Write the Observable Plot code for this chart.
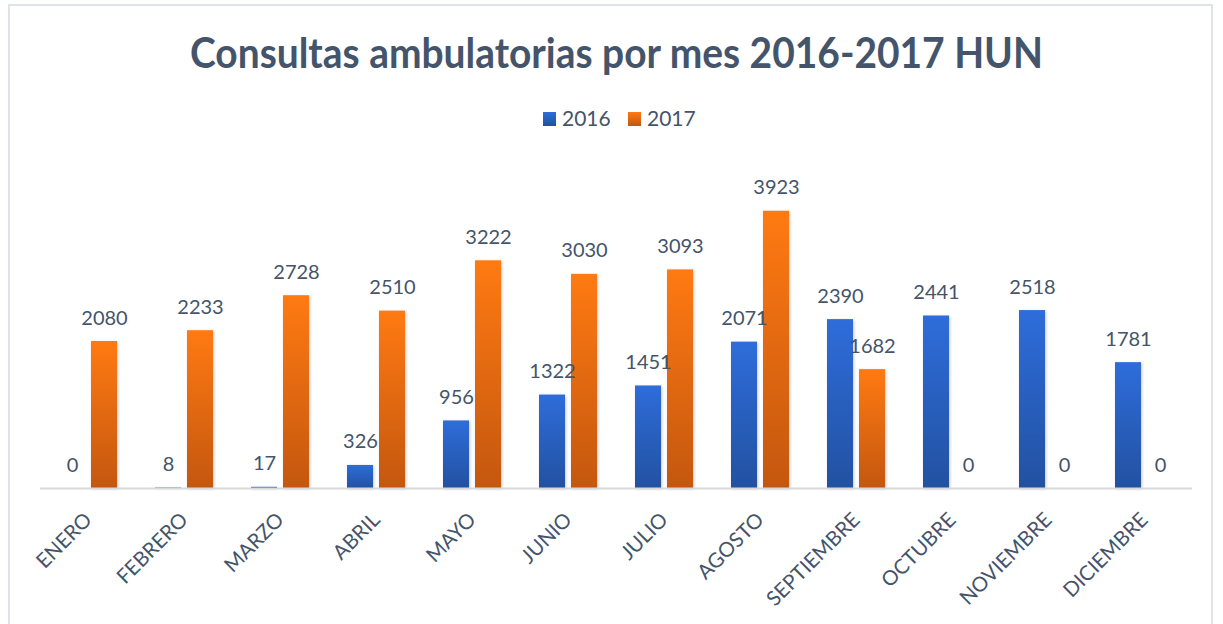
<!DOCTYPE html>
<html>
<head>
<meta charset="utf-8">
<script src="https://cdn.jsdelivr.net/npm/d3@7"></script>
<script src="https://cdn.jsdelivr.net/npm/@observablehq/plot@0.6"></script>
<style>
  html, body { margin: 0; padding: 0; background: #fff; width: 1223px; height: 624px; overflow: hidden; font-family: Lato, "Open Sans", sans-serif; }
  #frame { position: absolute; left: 8px; top: 4px; width: 1205px; height: 660px; border: 2px solid #dfe3e8; box-sizing: border-box; }
  #title { position: absolute; left: 0; top: 0; }
  #legend { position: absolute; left: 0; top: 104px; width: 1223px; height: 30px; }
  #chart { position: absolute; left: 0; top: 0; }
</style>
</head>
<body>
<div id="frame"></div>
<div id="chart"></div>
<svg id="title" width="1223" height="100"></svg>
<svg id="legend" width="1223" height="30"></svg>
<script>
const titleText = "Consultas ambulatorias por mes 2016-2017 HUN";
const months = ["ENERO","FEBRERO","MARZO","ABRIL","MAYO","JUNIO","JULIO","AGOSTO","SEPTIEMBRE","OCTUBRE","NOVIEMBRE","DICIEMBRE"];
const series = ["2016","2017"];
const values2016 = [0, 8, 17, 326, 956, 1322, 1451, 2071, 2390, 2441, 2518, 1781];
const values2017 = [2080, 2233, 2728, 2510, 3222, 3030, 3093, 3923, 1682, 0, 0, 0];
const colorTop = ["#2e6dda", "#ff7a12"];
const colorBottom = ["#2251a1", "#c4570f"];
const textColor = "#44546a";

const data = months.flatMap((m, i) => [
  {month: m, year: series[0], value: values2016[i]},
  {month: m, year: series[1], value: values2017[i]}
]);

const gradIds = series.map(s => "grad" + s);

const chart = Plot.plot({
  width: 1223,
  height: 624,
  marginLeft: 40,
  marginRight: 31,
  marginTop: 170,
  marginBottom: 136,
  style: {background: "transparent", fontFamily: "Lato, 'Open Sans', sans-serif", color: textColor},
  fx: {domain: months, padding: 0, label: null, axis: null},
  x: {domain: series, axis: null, paddingInner: 0.1875, paddingOuter: 0.59375},
  y: {domain: [0, 4500], axis: null},
  color: {domain: series, range: gradIds.map(id => `url(#${id})`)},
  marks: [
    Plot.barY(data, {fx: "month", x: "year", y: "value", fill: "year", inset: 0}),
    Plot.ruleY([0], {stroke: "#d9d9d9", strokeWidth: 2}),
    Plot.text(data, {fx: "month", x: "year", y: "value", text: d => String(d.value),
      lineAnchor: "bottom", dy: -17, fill: textColor, fontSize: 20}),
    Plot.axisFx({anchor: "bottom", label: null, tickRotate: -45, tickSize: 0, tickPadding: 28,
      fontSize: 20.5, fill: textColor})
  ]
});
document.getElementById("chart").appendChild(chart);

// gradients
const svgNS = "http://www.w3.org/2000/svg";
const defs = document.createElementNS(svgNS, "defs");
series.forEach((s, i) => {
  const g = document.createElementNS(svgNS, "linearGradient");
  g.setAttribute("id", gradIds[i]);
  g.setAttribute("x1", "0"); g.setAttribute("y1", "0");
  g.setAttribute("x2", "0"); g.setAttribute("y2", "1");
  [[0, colorTop[i]], [1, colorBottom[i]]].forEach(([o, c]) => {
    const st = document.createElementNS(svgNS, "stop");
    st.setAttribute("offset", o);
    st.setAttribute("stop-color", c);
    g.appendChild(st);
  });
  defs.appendChild(g);
});
chart.insertBefore(defs, chart.firstChild);
chart.querySelectorAll("rect").forEach(r => {
  const f = r.getAttribute("fill");
  if (f && f.startsWith("url")) r.style.filter = "drop-shadow(1px 1px 1.5px rgba(0,0,0,0.22))";
});

// title
const tsvg = d3.select("#title");
tsvg.append("text")
  .attr("x", 616.5).attr("y", 68)
  .attr("text-anchor", "middle")
  .attr("font-family", "Lato, 'Open Sans', sans-serif")
  .attr("font-weight", 700)
  .attr("font-size", 42)
  .attr("textLength", 853)
  .attr("lengthAdjust", "spacingAndGlyphs")
  .attr("fill", textColor)
  .text(titleText);

// legend
const lsvg = d3.select("#legend");
const ldefs = lsvg.append("defs");
series.forEach((s, i) => {
  const g = ldefs.append("linearGradient").attr("id", "lg" + s)
    .attr("x1", 0).attr("y1", 0).attr("x2", 0).attr("y2", 1);
  g.append("stop").attr("offset", 0).attr("stop-color", colorTop[i]);
  g.append("stop").attr("offset", 1).attr("stop-color", colorBottom[i]);
});
const legendX = [543, 628];
series.forEach((s, i) => {
  lsvg.append("rect").attr("x", legendX[i]).attr("y", 8).attr("width", 13).attr("height", 14)
    .attr("fill", `url(#lg${s})`);
  lsvg.append("text").attr("x", legendX[i] + 19).attr("y", 22)
    .attr("font-family", "Lato, 'Open Sans', sans-serif").attr("font-size", 21)
    .attr("fill", textColor).text(s);
});
</script>
</body>
</html>
